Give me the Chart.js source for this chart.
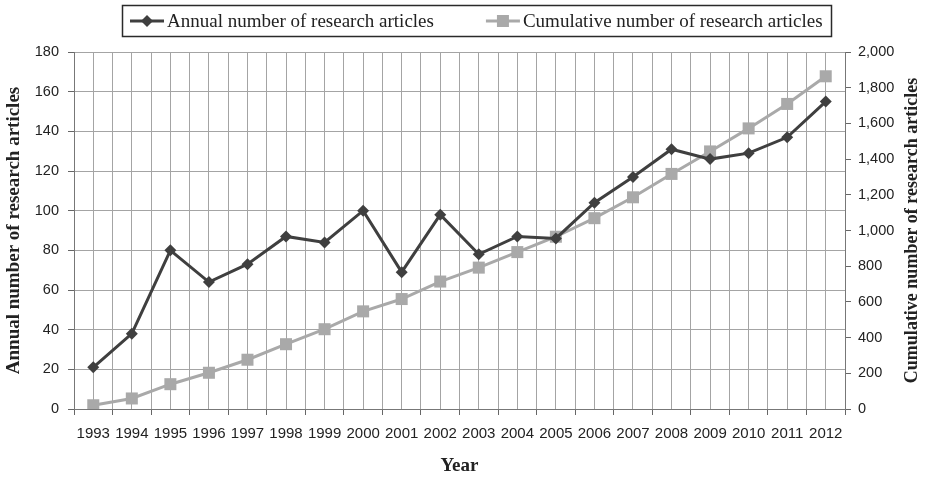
<!DOCTYPE html>
<html><head><meta charset="utf-8">
<script src="https://cdn.jsdelivr.net/npm/chart.js@4/dist/chart.umd.min.js"></script>
<style>html,body{margin:0;padding:0;background:#fff}#wrap{width:927px;height:479px}</style>
</head><body><div id="wrap"><canvas id="c"></canvas></div>
<script>
const years = [1993,1994,1995,1996,1997,1998,1999,2000,2001,2002,2003,2004,2005,2006,2007,2008,2009,2010,2011,2012];
const annual = [21,38,80,64,73,87,84,100,69,98,78,87,86,104,117,131,126,129,137,155];
const cumulative = [21,59,139,203,276,363,447,547,616,714,792,879,965,1069,1186,1317,1443,1572,1709,1864];
const leftTicks = [0,20,40,60,80,100,120,140,160,180];
const rightTicks = [0,200,400,600,800,1000,1200,1400,1600,1800,2000];
const seriesNames = ['Annual number of research articles','Cumulative number of research articles'];
const rightTitle = 'Cumulative number of research articles';

const DARK = '#3f3f3f', LIGHT = '#a9a9a9', TXT = '#222';
const SERIF = 'Liberation Serif', SANS = 'Liberation Sans';

function drawMarker(g, style, cx, cy, color){
  g.fillStyle = color;
  if(style==='diamond'){ g.beginPath(); g.moveTo(cx,cy-6); g.lineTo(cx+6,cy); g.lineTo(cx,cy+6); g.lineTo(cx-6,cy); g.closePath(); g.fill(); }
  else { g.fillRect(cx-6, cy-6, 12, 12); }
}

const customLegend = {
  id:'customLegend',
  afterDraw(chart){
    const ctx = chart.ctx; ctx.save();
    const styles = ['diamond','square'], colors = [DARK, LIGHT];
    ctx.font = '19px "' + SERIF + '"';
    const widths = seriesNames.map(t=>ctx.measureText(t).width);
    const markW = 34, gapTxt = 3, gapItem = 52, padX = 8;
    const total = padX*2 + markW*2 + gapTxt*2 + widths[0] + widths[1] + gapItem;
    const boxL = 122, boxT = 5, boxH = 31;
    const cy = boxT + boxH/2 + 0.5;
    ctx.strokeStyle = '#2a2a2a'; ctx.lineWidth = 1.5;
    ctx.strokeRect(boxL + 0.5, boxT + 0.5, Math.round(total), boxH);
    let x = boxL + padX;
    for(let i=0;i<2;i++){
      ctx.strokeStyle = colors[i]; ctx.lineWidth = 3;
      ctx.beginPath(); ctx.moveTo(x, cy); ctx.lineTo(x+markW, cy); ctx.stroke();
      drawMarker(ctx, styles[i], x+markW/2, cy, colors[i]);
      x += markW + gapTxt;
      ctx.fillStyle = TXT; ctx.textBaseline = 'middle'; ctx.textAlign = 'left';
      ctx.fillText(seriesNames[i], x, cy + 1);
      x += widths[i] + gapItem;
    }
    // right axis title, reading bottom-to-top
    const a = chart.chartArea;
    ctx.translate(912, (a.top + a.bottom)/2);
    ctx.rotate(-Math.PI/2);
    ctx.font = 'bold 18px "' + SERIF + '"';
    ctx.fillStyle = TXT; ctx.textAlign = 'center'; ctx.textBaseline = 'middle';
    ctx.fillText(rightTitle, 0, 0);
    ctx.restore();
  }
};

new Chart(document.getElementById('c'), {
  type:'line',
  data:{ datasets:[
    { label:seriesNames[0], data: years.map((y,i)=>({x:y,y:annual[i]})), yAxisID:'y',
      borderColor:DARK, backgroundColor:DARK, borderWidth:3, pointStyle:'rectRot', pointRadius:6, pointHoverRadius:6, pointBorderWidth:0, tension:0 },
    { label:seriesNames[1], data: years.map((y,i)=>({x:y,y:cumulative[i]})), yAxisID:'y2',
      borderColor:LIGHT, backgroundColor:LIGHT, borderWidth:3, pointStyle:'rect', pointRadius:8.5, pointHoverRadius:8.5, pointBorderWidth:0, tension:0 }
  ]},
  options:{
    responsive:true, maintainAspectRatio:false, animation:false,
    layout:{ padding:{ top:52, left:0, right:0, bottom:0 } },
    plugins:{ tooltip:{enabled:false}, legend:{ display:false } },
    scales:{
      x:{ type:'linear', min:1992.5, max:2012.5,
        afterBuildTicks(ax){ ax.ticks = []; for(let v=1992.5; v<=2012.51; v+=0.5) ax.ticks.push({value:v}); },
        afterFit(ax){ ax.height = 70; },
        ticks:{ autoSkip:false, maxRotation:0, font:{family:SANS, size:15}, color:TXT, padding:10,
          callback(v){ return Number.isInteger(v) ? String(v) : ''; } },
        grid:{ color:'#a4a4a4', lineWidth:1, tickLength:6, tickColor(c){ return Number.isInteger(c.tick.value) ? 'transparent' : '#666'; } },
        border:{ color:'#777', width:1 },
        title:{ display:true, text:'Year', font:{family:SERIF, size:19, weight:'bold'}, color:TXT, padding:{top:0, bottom:2} } },
      y:{ position:'left', min:0, max:180,
        afterBuildTicks(ax){ ax.ticks = leftTicks.map(v=>({value:v})); },
        afterFit(ax){ ax.width = 74; },
        ticks:{ font:{family:SANS, size:14.5}, color:TXT, padding:9 },
        grid:{ color:'#a4a4a4', tickLength:6, tickColor:'#666' }, border:{ color:'#777' },
        title:{ display:true, text:seriesNames[0], font:{family:SERIF, size:19, weight:'bold'}, color:TXT, padding:{top:3, bottom:0} } },
      y2:{ position:'right', min:0, max:2000,
        afterBuildTicks(ax){ ax.ticks = rightTicks.map(v=>({value:v})); },
        afterFit(ax){ ax.width = 82; },
        ticks:{ font:{family:SANS, size:14.5}, color:TXT, padding:7, callback(v){ return v.toLocaleString('en-US'); } },
        grid:{ drawOnChartArea:false, tickLength:6, tickColor:'#666' }, border:{ color:'#777' },
        title:{ display:false } }
    }
  },
  plugins:[customLegend]
});
</script></body></html>
